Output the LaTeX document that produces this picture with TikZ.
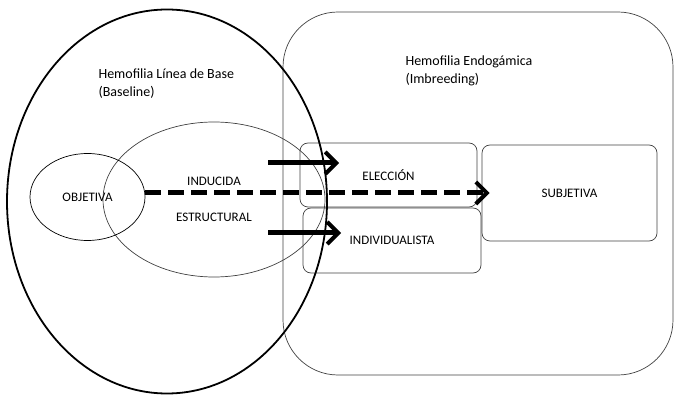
\documentclass[tikz,border=0pt]{standalone}
\usepackage{fontspec}
\setmainfont{Carlito}
\usetikzlibrary{shapes.geometric,arrows.meta,calc}

\begin{document}
\begin{tikzpicture}[x=1pt,y=-1pt,
	thinline/.style={line width=0.7pt, color=black!75, text=black},
	box/.style={draw, thinline, rounded corners=8pt, inner sep=0pt, font=\fontsize{13}{15}\selectfont},
	oval/.style={draw, ellipse, inner sep=0pt, text=black, font=\fontsize{13}{15}\selectfont},
	fatarrow/.style={line width=5pt, -{Straight Barb[length=11pt,width=22pt,line width=4pt]}},
	dasharrow/.style={fatarrow, dash pattern=on 16pt off 7pt}]
			%%%%% START %%%%%
			
			\useasboundingbox (0, 0) rectangle (674, 395);
			
			\node[draw, thinline, rounded corners=55pt, minimum width=390pt, minimum height=363pt] (endo) at (478, 193.5) {};
			\node[anchor=west, align=left, font=\fontsize{14}{18}\selectfont] (endolabel) at (402, 71) {Hemofilia Endogámica\\(Imbreeding)};
			
			\node[box, minimum width=177pt, minimum height=64pt] (eleccion) at (388.5, 175) {ELECCIÓN};
			\node[box, minimum width=178pt, minimum height=65pt] (individualista) at (392, 240.5) {INDIVIDUALISTA};
			\node[box, minimum width=175pt, minimum height=96pt] (subjetiva) at (569.5, 193) {SUBJETIVA};
			
			\node[oval, thinline, minimum width=222pt, minimum height=155pt, align=center] (inducida) at (214, 199.5) {INDUCIDA\\[21pt]ESTRUCTURAL};
			\node[oval, thinline, color=black, minimum width=115pt, minimum height=87pt] (objetiva) at (87.5, 197) {OBJETIVA};
			
			\node[oval, line width=1.8pt, minimum width=320pt, minimum height=384pt] (base) at (167, 201.5) {};
			\node[anchor=west, align=left, font=\fontsize{14}{18}\selectfont] (baselabel) at (95, 84) {Hemofilia Línea de Base\\(Baseline)};
			
			\coordinate (topstart) at (268, 163);
			\coordinate (topend) at (339, 163);
			\coordinate (botstart) at (268, 233);
			\coordinate (botend) at (341, 233);
			
			\draw[fatarrow] (topstart) -- (topend);
			\draw[fatarrow] (botstart) -- (botend);
			\draw[dasharrow, shorten >=-8pt] (objetiva.east |- subjetiva.west) -- (subjetiva.west);
			
			%%%%% END %%%%%
\end{tikzpicture}
\end{document}
